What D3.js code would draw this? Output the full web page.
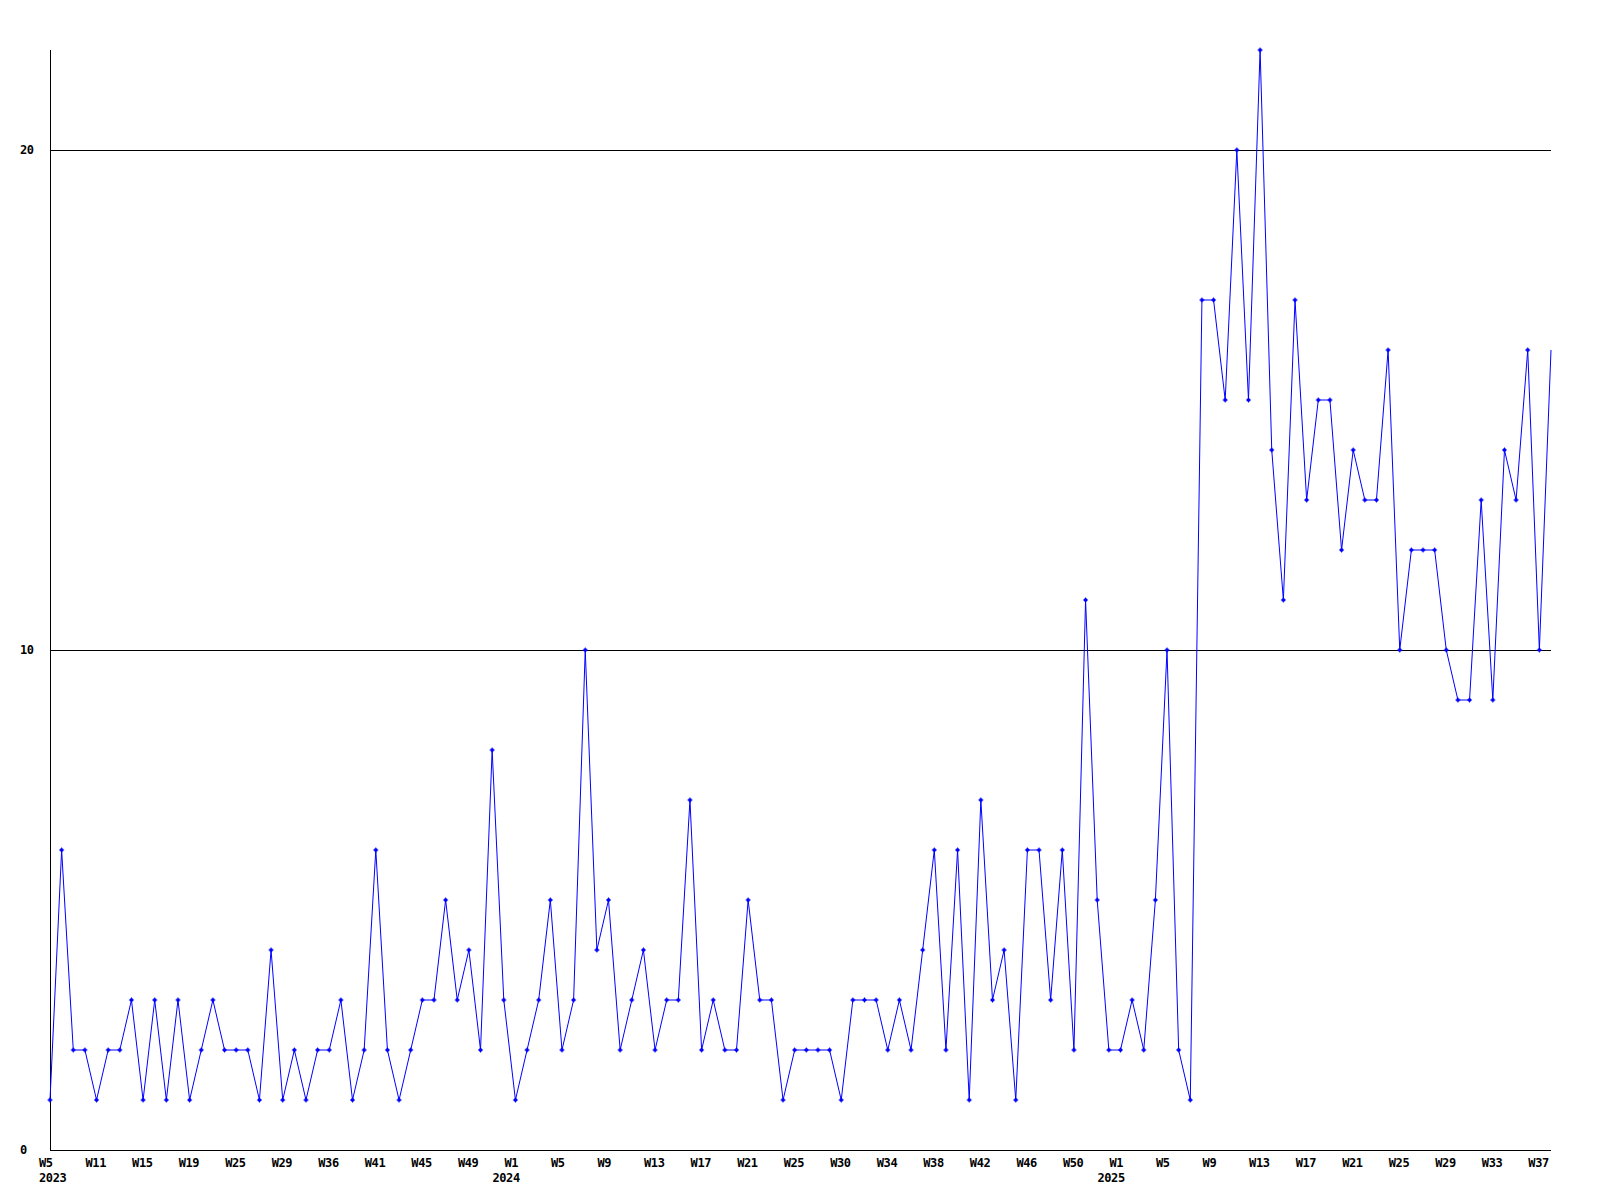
<!DOCTYPE html>
<html>
<head>
    <meta charset="utf-8">
    <title>Weekly count</title>
    <script type="text/javascript" src="https://cdn.jsdelivr.net/npm/d3@7"></script>
    <style>
        body {
            margin: 0;
            background: #fff;
        }

        text {
            font-family: "DejaVu Sans Mono", "Liberation Mono", monospace;
            font-weight: bold;
            font-size: 12px;
            letter-spacing: -0.4px;
            fill: #000;
        }

        .rule {
            stroke: #000;
            stroke-width: 1px;
            shape-rendering: crispEdges;
        }

        .series {
            fill: none;
            stroke: #0000ff;
            stroke-width: 1px;
        }

        .dot {
            fill: #0000ff;
        }
    </style>
</head>

<body>

<script type="text/javascript">
    // one value per week that has data (weeks without data are skipped)
    var values = [
        1, 6, 2, 2, 1, 2, 2, 3, 1, 3,
        1, 3, 1, 2, 3, 2, 2, 2, 1, 4,
        1, 2, 1, 2, 2, 3, 1, 2, 6, 2,
        1, 2, 3, 3, 5, 3, 4, 2, 8, 3,
        1, 2, 3, 5, 2, 3, 10, 4, 5, 2,
        3, 4, 2, 3, 3, 7, 2, 3, 2, 2,
        5, 3, 3, 1, 2, 2, 2, 2, 1, 3,
        3, 3, 2, 3, 2, 4, 6, 2, 6, 1,
        7, 3, 4, 1, 6, 6, 3, 6, 2, 11,
        5, 2, 2, 3, 2, 5, 10, 2, 1, 17,
        17, 15, 20, 15, 22, 14, 11, 17, 13, 15,
        15, 12, 14, 13, 13, 16, 10, 12, 12, 12,
        10, 9, 9, 13, 9, 14, 13, 16, 10, 16
    ];

    // label on every 4th point
    var tickEvery = 4;
    var tickWeeks = [
        "W5", "W11", "W15", "W19", "W25", "W29", "W36", "W41", "W45", "W49",
        "W1", "W5", "W9", "W13", "W17", "W21", "W25", "W30", "W34", "W38",
        "W42", "W46", "W50",
        "W1", "W5", "W9", "W13", "W17", "W21", "W25", "W29", "W33", "W37"
    ];
    var years = ["2023", "2024", "2025"];
    var yTicks = [0, 10, 20];
    var yMax = 22;

    var width = 1600,
            height = 1200;

    var plotLeft = 50, plotRight = 1551, plotTop = 50, plotBottom = 1150;

    var svg = d3.select("body").append("svg")
            .attr("width", width)
            .attr("height", height);

    var x = d3.scalePoint()
            .domain(d3.range(values.length))
            .range([plotLeft, plotRight]);

    var y = d3.scaleLinear()
            .domain([0, yMax])
            .range([plotBottom, plotTop]);

    // horizontal rules and y labels
    svg.selectAll("line.grid")
            .data(yTicks.filter(function (d) { return d > 0; }))
            .enter()
            .append("line")
            .attr("class", "rule grid")
            .attr("x1", plotLeft)
            .attr("x2", plotRight)
            .attr("y1", function (d) { return y(d); })
            .attr("y2", function (d) { return y(d); });

    svg.selectAll("text.ylab")
            .data(yTicks)
            .enter()
            .append("text")
            .attr("class", "ylab")
            .attr("x", 20)
            .attr("y", function (d) { return y(d) + 4; })
            .text(function (d) { return d; });

    // axes
    svg.append("line")
            .attr("class", "rule")
            .attr("x1", plotLeft).attr("x2", plotLeft)
            .attr("y1", plotTop).attr("y2", plotBottom);
    svg.append("line")
            .attr("class", "rule")
            .attr("x1", plotLeft).attr("x2", plotRight)
            .attr("y1", plotBottom).attr("y2", plotBottom);

    // x labels, year under the first tick and under every W1
    var yearIdx = 0;
    tickWeeks.forEach(function (w, k) {
        var px = x(k * tickEvery);
        svg.append("text")
                .attr("x", px - 11)
                .attr("y", plotBottom + 17)
                .text(w);
        if (k === 0 || w === "W1") {
            svg.append("text")
                    .attr("x", k === 0 ? px - 11 : px - 23)
                    .attr("y", plotBottom + 32)
                    .text(years[yearIdx++]);
        }
    });

    // series
    var line = d3.line()
            .x(function (d, i) { return x(i); })
            .y(function (d) { return y(d); });

    svg.append("path")
            .datum(values)
            .attr("class", "series")
            .attr("d", line);

    // markers (last, still running week has none)
    var mark = "M-2.5,-0.5h5v1h-5z M-0.5,-2.5h1v5h-1z M-1.5,-1.5h3v3h-3z";
    svg.selectAll("path.dot")
            .data(values.slice(0, values.length - 1))
            .enter()
            .append("path")
            .attr("class", "dot")
            .attr("d", mark)
            .attr("transform", function (d, i) {
                return "translate(" + x(i) + "," + y(d) + ")";
            });
</script>

</body>

</html>
